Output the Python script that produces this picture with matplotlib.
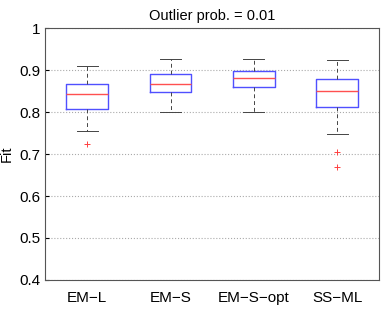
import matplotlib
matplotlib.use('Agg')
import matplotlib.pyplot as plt

plt.rcParams['font.family'] = ['Liberation Sans', 'DejaVu Sans']

methods = ['EM\u2212L', 'EM\u2212S', 'EM\u2212S\u2212opt', 'SS\u2212ML']
whisk_lo = [0.756, 0.801, 0.801, 0.747]
q1 = [0.808, 0.847, 0.859, 0.811]
med = [0.842, 0.867, 0.880, 0.849]
q3 = [0.868, 0.890, 0.898, 0.879]
whisk_hi = [0.910, 0.927, 0.927, 0.923]
outliers = [[0.725], [], [], [0.705, 0.668]]

stats = []
for i in range(len(methods)):
    stats.append({'whislo': whisk_lo[i], 'q1': q1[i], 'med': med[i], 'q3': q3[i],
                  'whishi': whisk_hi[i], 'fliers': outliers[i], 'label': methods[i]})

fig = plt.figure(figsize=(3.82, 3.09), dpi=100)
ax = fig.add_axes([0.119, 0.094, 0.873, 0.815])

ax.bxp(stats, positions=[1, 2, 3, 4], widths=0.5,
       boxprops=dict(color='#5050ff', linewidth=1.0),
       medianprops=dict(color='#ff5050', linewidth=1.0),
       whiskerprops=dict(color='#444444', linestyle=(0, (4, 3)), linewidth=0.7),
       capprops=dict(color='#444444', linewidth=0.7),
       flierprops=dict(marker='+', markeredgecolor='#ff4040', markeredgewidth=0.7,
                       markersize=4, linestyle='none'))

ax.set_xlim(0.5, 4.5)
ax.set_ylim(0.4, 1.0)
ax.set_yticks([0.4, 0.5, 0.6, 0.7, 0.8, 0.9, 1.0])
ax.set_yticklabels(['0.4', '0.5', '0.6', '0.7', '0.8', '0.9', '1'])
ax.yaxis.grid(True, linestyle=':', color='#aaaaaa', linewidth=0.8)
ax.set_axisbelow(True)
ax.tick_params(axis='x', length=0, labelsize=11, pad=8)
ax.tick_params(axis='y', direction='in', length=3, labelsize=11, colors='black')
for s in ax.spines.values():
    s.set_color('#555555')
    s.set_linewidth(0.8)

ax.set_ylabel('Fit', fontsize=10.5)
ax.set_title('Outlier prob. = 0.01', fontsize=10.5)

fig.savefig('out.png', dpi=100)
